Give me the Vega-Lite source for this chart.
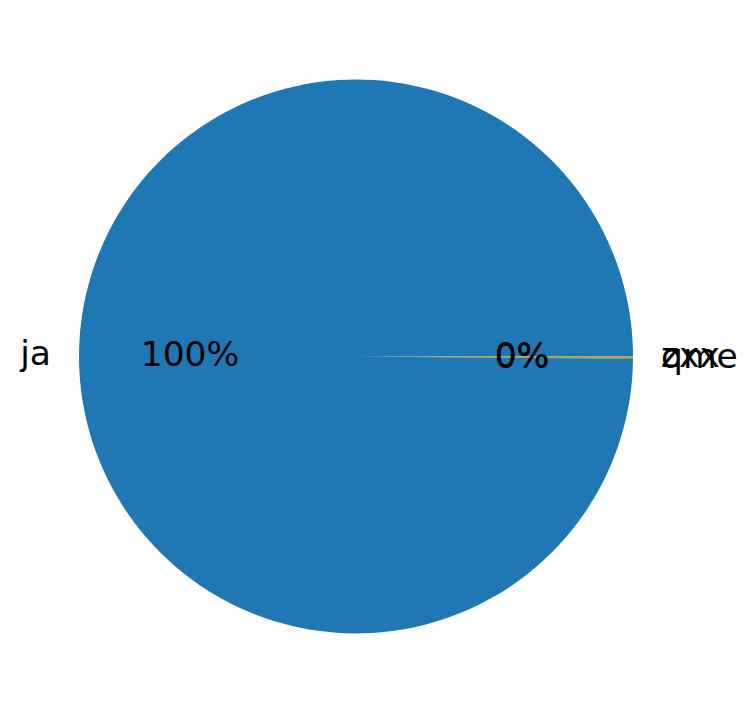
{
  "$schema": "https://vega.github.io/schema/vega-lite/v6.json",
  "width": 712,
  "height": 713,
  "autosize": {"type": "none"},
  "padding": {"left": 0, "top": 0, "right": 36, "bottom": 0},
  "background": "white",
  "config": {"view": {"stroke": null}},
  "data": {
    "values": [
      {"lang": "ja", "count": 1500},
      {"lang": "zxx", "count": 1},
      {"lang": "qme", "count": 1}
    ]
  },
  "encoding": {
    "theta": {"field": "count", "type": "quantitative", "stack": true, "scale": {"range": [1.5708, 7.854]}},
    "order": {"field": "count", "type": "quantitative", "sort": "ascending"}
  },
  "layer": [
    {
      "mark": {"type": "arc", "outerRadius": 277},
      "encoding": {
        "color": {
          "field": "lang",
          "type": "nominal",
          "scale": {"domain": ["ja", "zxx", "qme"], "range": ["#1f77b4", "#ff7f0e", "#2ca02c"]},
          "legend": null
        }
      }
    },
    {
      "mark": {"type": "text", "radius": 166, "font": "DejaVu Sans", "fontSize": 34.5, "color": "black", "align": "center", "baseline": "middle"},
      "encoding": {
        "text": {"field": "pct", "type": "nominal"}
      },
      "transform": [
        {"joinaggregate": [{"op": "sum", "field": "count", "as": "total"}]},
        {"calculate": "format(datum.count / datum.total * 100, '.0f') + '%'", "as": "pct"}
      ]
    },
    {
      "mark": {"type": "text", "radius": 305, "font": "DejaVu Sans", "fontSize": 34.5, "color": "black", "align": "right", "baseline": "middle"},
      "encoding": {
        "text": {"condition": {"test": "datum.lang === 'ja'", "field": "lang"}, "value": ""}
      }
    },
    {
      "mark": {"type": "text", "radius": 305, "font": "DejaVu Sans", "fontSize": 34.5, "color": "black", "align": "left", "baseline": "middle"},
      "encoding": {
        "text": {"condition": {"test": "datum.lang !== 'ja'", "field": "lang"}, "value": ""}
      }
    }
  ]
}
